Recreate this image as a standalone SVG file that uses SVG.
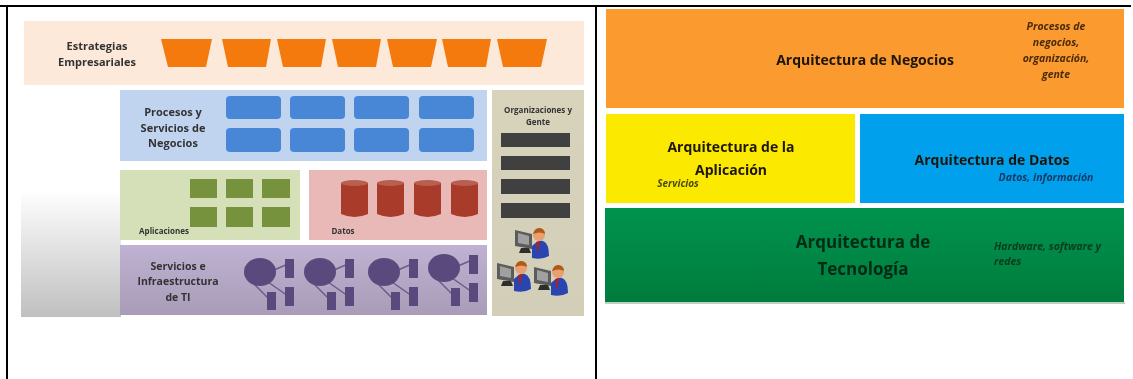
<svg xmlns="http://www.w3.org/2000/svg" xmlns:xlink="http://www.w3.org/1999/xlink" width="1133" height="379" viewBox="0 0 1133 379">
<style>
text{font-family:"Open Sans","Liberation Sans",sans-serif;font-weight:700;text-anchor:middle}
.l{font-size:11px;fill:#333}
.s{font-size:8px;fill:#333}
.h{font-size:14px;fill:#1c1408}
.i{font-size:10.500px;font-style:italic}
.trap{fill:#f47a0a}
.biz{fill:#4687d6}
.app{fill:#76923c}
.bar{fill:#404040}
.srv{fill:#5a4a7c}
.lnk{stroke:#6a5c8a;stroke-width:1.5;fill:none}
.frame{stroke:#000;stroke-width:2;fill:none}
</style>
<defs>
<linearGradient id="fade" x1="0" y1="0" x2="0" y2="1"><stop offset="0" stop-color="#fff"/><stop offset="1" stop-color="#c0c0c0"/></linearGradient>
<linearGradient id="tan" x1="0" y1="0" x2="0" y2="1"><stop offset="0" stop-color="#d8d3bb"/><stop offset="1" stop-color="#d2ceb8"/></linearGradient>
<linearGradient id="pur" x1="0" y1="0" x2="0" y2="1"><stop offset="0" stop-color="#bfb2d2"/><stop offset="1" stop-color="#a89cb8"/></linearGradient>
<linearGradient id="grn" x1="0" y1="0" x2="0" y2="1"><stop offset="0" stop-color="#03934f"/><stop offset="1" stop-color="#037c3c"/></linearGradient>
<filter id="soft" x="-5%" y="-5%" width="110%" height="110%"><feGaussianBlur stdDeviation="0.45"/></filter>
<g id="cyl"><path d="M0 3V34Q13.500 40 27 34V3Z" fill="#a83a2c"/><ellipse cx="13.500" cy="3" rx="13.500" ry="3" fill="#b95e50"/></g>
<g id="srvA"><path class="lnk" d="M14 -2L28 -8M-6 12L11 29M8 10L28 24"/><ellipse cx="0" cy="0" rx="16" ry="14" class="srv"/><rect class="srv" x="25" y="-13" width="9" height="19"/><rect class="srv" x="25" y="15" width="9" height="19"/><rect class="srv" x="7" y="20" width="9" height="18"/></g>
<g id="person">
<path d="M-19 -6L-2 -2V13L-19 10Z" fill="#5c5c5c"/>
<path d="M-16 -3L-5 0V9L-16 7Z" fill="#a0a0a0"/>
<path d="M-13 12H-5L-3 17H-15Z" fill="#2e2e2e"/>
<path d="M-2 22V10Q4 4 9 5Q15 7 15 20Q8 24 -2 22Z" fill="#2a45b0"/>
<path d="M2 6L4 17L6 5Z" fill="#b02020"/>
<circle cx="5" cy="-1" r="6" fill="#e8a070"/>
<path d="M-1 -2Q1 -9 6 -8Q11 -7 11 -2Q6 -5 -1 -2Z" fill="#b05a18"/>
</g>
</defs>
<g id="frame"><path class="frame" d="M0 6H1131M7 6V379M596 6V379"/></g>

<g id="left-panel" filter="url(#soft)">
<rect x="21" y="190" width="100" height="127" fill="url(#fade)"/>
<g id="estrategias">
<rect x="24" y="21" width="560" height="64" fill="#fde9d9"/>
<text class="l"><tspan x="97" y="50">Estrategias</tspan><tspan x="97" y="66">Empresariales</tspan></text>
<path class="trap" d="M161 39H212L206 67H168Z"/><path class="trap" d="M222 39H271L266 67H228Z"/><path class="trap" d="M277 39H326L321 67H283Z"/><path class="trap" d="M332 39H381L376 67H338Z"/><path class="trap" d="M387 39H437L431 67H393Z"/><path class="trap" d="M442 39H491L486 67H448Z"/><path class="trap" d="M497 39H547L541 67H503Z"/>
</g>
<g id="procesos">
<rect x="120" y="90" width="367" height="71" fill="#c0d4ef"/>
<text class="l"><tspan x="173" y="116">Procesos y</tspan><tspan x="173" y="132">Servicios de</tspan><tspan x="173" y="147">Negocios</tspan></text>
<rect class="biz" x="226" y="96" width="55" height="23" rx="4"/><rect class="biz" x="290" y="96" width="55" height="23" rx="4"/><rect class="biz" x="354" y="96" width="55" height="23" rx="4"/><rect class="biz" x="419" y="96" width="55" height="23" rx="4"/>
<rect class="biz" x="226" y="128" width="55" height="24" rx="4"/><rect class="biz" x="290" y="128" width="55" height="24" rx="4"/><rect class="biz" x="354" y="128" width="55" height="24" rx="4"/><rect class="biz" x="419" y="128" width="55" height="24" rx="4"/>
</g>
<g id="aplicaciones">
<rect x="120" y="170" width="180" height="70" fill="#d5e0b8"/>
<text class="s" x="164" y="234">Aplicaciones</text>
<rect class="app" x="190" y="179" width="27" height="19"/><rect class="app" x="226" y="179" width="27" height="19"/><rect class="app" x="262" y="179" width="28" height="19"/>
<rect class="app" x="190" y="207" width="27" height="20"/><rect class="app" x="226" y="207" width="27" height="20"/><rect class="app" x="262" y="207" width="28" height="20"/>
</g>
<g id="datos">
<rect x="309" y="170" width="178" height="70" fill="#e8b9b7"/>
<text class="s" x="343" y="234">Datos</text>
<use xlink:href="#cyl" href="#cyl" x="341" y="180"/><use xlink:href="#cyl" href="#cyl" x="377" y="180"/><use xlink:href="#cyl" href="#cyl" x="414" y="180"/><use xlink:href="#cyl" href="#cyl" x="451" y="180"/>
</g>
<g id="servicios">
<rect x="120" y="245" width="367" height="70" fill="url(#pur)"/>
<text class="l" style="font-size:10.500px"><tspan x="178" y="270">Servicios e</tspan><tspan x="178" y="285">Infraestructura</tspan><tspan x="178" y="301">de TI</tspan></text>
<use xlink:href="#srvA" href="#srvA" x="260" y="272"/><use xlink:href="#srvA" href="#srvA" x="320" y="272"/><use xlink:href="#srvA" href="#srvA" x="384" y="272"/><use xlink:href="#srvA" href="#srvA" x="444" y="268"/>
</g>
<g id="organizaciones">
<rect x="492" y="90" width="92" height="226" fill="url(#tan)"/>
<text class="s"><tspan x="538" y="113">Organizaciones y</tspan><tspan x="538" y="125">Gente</tspan></text>
<rect class="bar" x="501" y="133" width="69" height="14"/><rect class="bar" x="501" y="156" width="69" height="14"/><rect class="bar" x="501" y="179" width="69" height="15"/><rect class="bar" x="501" y="203" width="69" height="15"/>
<use xlink:href="#person" href="#person" x="534" y="236"/><use xlink:href="#person" href="#person" x="516" y="269"/><use xlink:href="#person" href="#person" x="553" y="273"/>
</g>
</g>

<g id="right-panel" filter="url(#soft)">
<g id="negocios">
<rect x="606" y="9" width="518" height="99" fill="#fb9a2e"/>
<text class="h" x="865" y="65">Arquitectura de Negocios</text>
<text class="i" fill="#4a2a08"><tspan x="1056" y="30">Procesos de</tspan><tspan x="1056" y="46">negocios,</tspan><tspan x="1056" y="62">organización,</tspan><tspan x="1056" y="78">gente</tspan></text>
</g>
<g id="aplicacion">
<rect x="606" y="114" width="249" height="89" fill="#fbe900"/>
<text class="h"><tspan x="731" y="152">Arquitectura de la</tspan><tspan x="731" y="175">Aplicación</tspan></text>
<text class="i" fill="#4a4a10" style="font-size:10px" x="678" y="187">Servicios</text>
</g>
<g id="datos-arq">
<rect x="860" y="114" width="264" height="89" fill="#05a0ec"/>
<text class="h" x="992" y="165">Arquitectura de Datos</text>
<text class="i" fill="#123a66" x="1046" y="181">Datos, información</text>
</g>
<g id="tecnologia">
<rect x="605" y="302" width="520" height="2" fill="#c0cfc6"/>
<rect x="605" y="208" width="519" height="94" fill="url(#grn)"/>
<text style="font-size:17px;fill:#062a14"><tspan x="863" y="248">Arquitectura de</tspan><tspan x="863" y="275">Tecnología</tspan></text>
<text class="i" fill="#0a3a1e" style="text-anchor:start"><tspan x="994" y="250">Hardware, software y</tspan><tspan x="994" y="265">redes</tspan></text>
</g>
</g>
</svg>
